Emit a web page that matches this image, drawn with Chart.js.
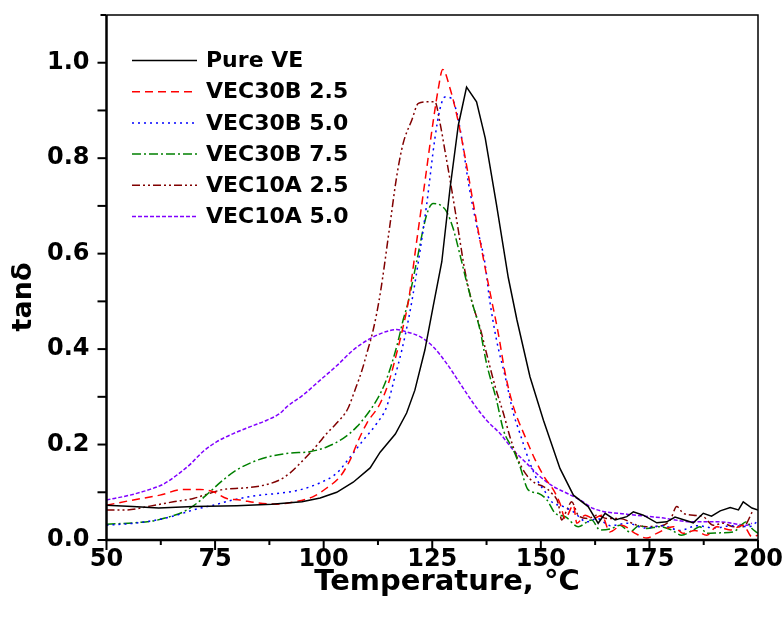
<!DOCTYPE html>
<html>
<head>
<meta charset="utf-8">
<script src="https://cdn.jsdelivr.net/npm/chart.js@4.4.1/dist/chart.umd.min.js"></script>
<style>
    html, body { margin: 0; padding: 0; background: #fff; }
    #wrap { width: 783px; height: 619px; }
</style>
</head>
<body>
<div id="wrap"><canvas id="tanChart" width="783" height="619"></canvas></div>
<script>
const seriesNames = ['Pure VE', 'VEC30B 2.5', 'VEC30B 5.0', 'VEC30B 7.5', 'VEC10A 2.5', 'VEC10A 5.0'];
const seriesColors = ['#000000', '#ff0000', '#0000ff', '#008000', '#800000', '#8000ff'];
const seriesDashes = [[], [8, 5], [2, 4], [9, 3, 2, 3], [8, 3, 2, 3, 2, 3], [4, 2]];

const xTicks = [50, 75, 100, 125, 150, 175, 200];
const yTicks = [0.0, 0.2, 0.4, 0.6, 0.8, 1.0];

// Pure VE
const pureT = [50, 56, 62, 70, 80, 88, 95, 99.2, 103, 106.8, 110.7, 113, 116.5, 119.1, 121, 123.3, 125.2, 127.2, 129.1, 131, 132.9,
    135.2, 137.2, 139.8, 142.5, 144.5, 147.5, 150.6, 154.4, 157.5, 160.9, 163.2, 164.8, 167.1, 169.8, 171.3, 173.6, 176.7, 179,
    180.9, 185.1, 187.4, 189.3, 191.3, 193.6, 195.5, 196.6, 198.6, 200];
const pureV = [0.073, 0.07, 0.067, 0.07, 0.072, 0.075, 0.08, 0.088, 0.1, 0.121, 0.151, 0.184, 0.222, 0.266, 0.314, 0.398, 0.489, 0.583, 0.737, 0.869, 0.949,
    0.918, 0.842, 0.702, 0.55, 0.461, 0.342, 0.251, 0.15, 0.094, 0.07, 0.035, 0.056, 0.042, 0.049, 0.059, 0.052, 0.036, 0.038,
    0.048, 0.036, 0.056, 0.05, 0.061, 0.068, 0.063, 0.08, 0.067, 0.063];

// VEC30B 2.5
const b25T = [50, 56.2, 62.3, 67.7, 71.5, 74.6, 77.7, 80.7, 84.6, 89.2, 92.2, 97.6, 100.7, 103.8, 106.1, 108, 109.9, 113, 114.9, 116.8, 118.3,
    119.5, 121.4, 123.3, 125.2, 126.4, 127.4, 129.1, 131, 132.9, 135.2, 137.2, 138.5, 140.2, 141.8, 143.7, 146.4, 148.7, 151, 152.9,
    154.4, 155.6, 157.5, 158.3, 160.2, 162.1, 164, 165.9, 168.6, 171.7, 174.4, 176.7, 180.5, 182.8, 185.5, 188.2, 190.5, 193.6,
    196.6, 198.6, 200];
const b25V = [0.073, 0.084, 0.094, 0.106, 0.106, 0.101, 0.087, 0.084, 0.078, 0.075, 0.078, 0.091, 0.109, 0.133, 0.168, 0.209, 0.244, 0.286, 0.328, 0.391, 0.447,
    0.5, 0.625, 0.75, 0.876, 0.946, 0.986, 0.946, 0.876, 0.785, 0.667, 0.569, 0.51, 0.433, 0.349, 0.279, 0.216, 0.168, 0.129, 0.105,
    0.077, 0.045, 0.073, 0.035, 0.052, 0.045, 0.052, 0.017, 0.031, 0.014, 0.004, 0.014, 0.028, 0.014, 0.02, 0.01, 0.028, 0.021,
    0.031, 0.007, 0.01];

// VEC30B 5.0
const b50T = [50, 56.2, 61.6, 66.2, 70, 74.6, 79.2, 85.3, 89.9, 94.5, 99.2, 103, 106.1, 109.1, 112.2, 114.5, 116.4, 118, 119.5, 120.3,
    121.8, 123.7, 125.6, 126.8, 127.9, 129.5, 130.6, 131.8, 133.3, 135.2, 137.2, 138.1, 139.8, 141.8, 143.7, 145.2, 147.5, 149.4,
    151, 152.5, 155.2, 157.5, 160.6, 163, 166, 170, 174, 178, 182, 186, 190, 194, 198, 200];
const b50V = [0.031, 0.035, 0.042, 0.052, 0.063, 0.073, 0.084, 0.094, 0.098, 0.105, 0.12, 0.14, 0.174, 0.209, 0.244, 0.279, 0.342, 0.398, 0.461, 0.5,
    0.583, 0.702, 0.841, 0.904, 0.928, 0.925, 0.897, 0.841, 0.75, 0.66, 0.576, 0.51, 0.419, 0.342, 0.265, 0.223, 0.161, 0.122,
    0.101, 0.08, 0.07, 0.059, 0.038, 0.045, 0.03, 0.035, 0.025, 0.03, 0.02, 0.03, 0.025, 0.03, 0.028, 0.04];

// VEC30B 7.5
const b75T = [50, 56.2, 60.8, 64.6, 67.7, 70.8, 73.8, 76.9, 80, 83.8, 87.6, 92.2, 96.8, 100.7, 104.5, 107.6, 109.9, 112.2, 114.1, 115.7,
    117.2, 118.3, 119.5, 121.4, 123.7, 125.2, 126.8, 128.3, 129.8, 131.4, 132.9, 134.1, 136, 137.5, 139.8, 141.4, 143.7, 145.2,
    147.1, 149.4, 151.4, 153.3, 155.6, 158.6, 161.7, 163.6, 166.3, 168.2, 170.5, 172.8, 174.4, 177.4, 180.1, 182.4, 185.1, 186.6,
    188.2, 191.3, 194.3, 197.4, 198.6, 200];
const b75V = [0.033, 0.036, 0.04, 0.049, 0.059, 0.077, 0.101, 0.126, 0.147, 0.164, 0.175, 0.182, 0.185, 0.195, 0.213, 0.237, 0.262, 0.293, 0.328, 0.37,
    0.419, 0.461, 0.5, 0.583, 0.681, 0.705, 0.702, 0.688, 0.653, 0.597, 0.541, 0.5, 0.44, 0.37, 0.293, 0.23, 0.188, 0.154,
    0.105, 0.098, 0.084, 0.056, 0.049, 0.028, 0.042, 0.021, 0.024, 0.031, 0.017, 0.031, 0.024, 0.028, 0.021, 0.01, 0.021, 0.028,
    0.014, 0.015, 0.017, 0.038, 0.024, 0.014];

// VEC10A 2.5
const a25T = [50, 54.6, 60, 65.4, 70, 73.8, 76.9, 81.5, 85.3, 89.9, 92.2, 94.5, 98.4, 100.7, 103, 105.5, 107.2, 108.8, 109.9, 111.4,
    113, 115.3, 116.8, 118.3, 120.3, 121.8, 123.7, 125.6, 126.8, 127.9, 129.5, 131, 132.5, 134.1, 136, 137.5, 139.5, 141.4,
    142.9, 144.5, 146.4, 148.7, 150.6, 152.5, 154, 154.8, 156, 157.1, 158.6, 160.9, 162.9, 165.2, 168.2, 172.1, 174.4, 177.4,
    179.8, 181.3, 182.8, 185.1, 187.4, 189.7, 192, 194.3, 196.6, 198.9];
const a25V = [0.063, 0.063, 0.071, 0.08, 0.087, 0.098, 0.106, 0.109, 0.113, 0.126, 0.14, 0.16, 0.198, 0.223, 0.245, 0.274, 0.314, 0.355, 0.39, 0.44,
    0.515, 0.663, 0.761, 0.831, 0.88, 0.915, 0.918, 0.918, 0.873, 0.817, 0.733, 0.649, 0.565, 0.5, 0.445, 0.391, 0.321, 0.265,
    0.216, 0.174, 0.14, 0.119, 0.112, 0.098, 0.077, 0.042, 0.063, 0.08, 0.052, 0.045, 0.052, 0.045, 0.045, 0.031, 0.028, 0.029,
    0.042, 0.07, 0.056, 0.052, 0.049, 0.031, 0.035, 0.028, 0.028, 0.063];

// VEC10A 5.0
const a50T = [50, 55.4, 60, 63.1, 66.2, 69.2, 72.3, 75.4, 79.2, 83, 86.9, 89.9, 91.5, 95.3, 99.2, 103, 106.8, 110.7, 114.5, 116.8,
    119.1, 122.2, 125.2, 128.3, 131.4, 134.5, 137.5, 140.6, 143.7, 146.7, 149.8, 152.9, 156, 159, 162.1, 169.8, 177.4, 185.1,
    191.3, 197.4, 198.6];
const a50V = [0.084, 0.094, 0.106, 0.117, 0.136, 0.158, 0.186, 0.206, 0.223, 0.237, 0.251, 0.265, 0.279, 0.304, 0.335, 0.365, 0.398, 0.422, 0.437, 0.441,
    0.436, 0.426, 0.405, 0.37, 0.328, 0.286, 0.251, 0.223, 0.188, 0.161, 0.133, 0.112, 0.098, 0.084, 0.066, 0.054, 0.047, 0.038,
    0.038, 0.031, 0.035];

const seriesT = [pureT, b25T, b50T, b75T, a25T, a50T];
const seriesV = [pureV, b25V, b50V, b75V, a25V, a50V];

const FONT = "'DejaVu Sans', sans-serif";

const framePlugin = {
    id: 'frame',
    afterDraw(chart) {
        const ctx = chart.ctx;
        const a = chart.chartArea;
        const xs = chart.scales.x;
        const ys = chart.scales.y;
        ctx.save();
        ctx.strokeStyle = '#000';
        ctx.setLineDash([]);

        // top and right
        ctx.lineWidth = 1.5;
        ctx.beginPath();
        ctx.moveTo(a.left, a.top);
        ctx.lineTo(a.right, a.top);
        ctx.lineTo(a.right, a.bottom);
        ctx.stroke();

        // left and bottom axes
        ctx.lineWidth = 2.5;
        ctx.beginPath();
        ctx.moveTo(a.left, a.top);
        ctx.lineTo(a.left, a.bottom);
        ctx.lineTo(a.right, a.bottom);
        ctx.stroke();

        // x ticks, major every 25, minor between
        ctx.lineWidth = 2;
        for (let v = 50; v <= 200; v += 12.5) {
            const px = xs.getPixelForValue(v);
            const len = (v % 25 === 0) ? 10 : 5;
            ctx.beginPath();
            ctx.moveTo(px, a.bottom);
            ctx.lineTo(px, a.bottom + len);
            ctx.stroke();
        }
        // y ticks every 0.1
        for (let i = 0; i <= 11; i++) {
            const py = ys.getPixelForValue(i / 10);
            ctx.beginPath();
            ctx.moveTo(a.left, py);
            ctx.lineTo(a.left - (i === 11 ? 6 : 9), py);
            ctx.stroke();
        }

        // axis titles
        ctx.fillStyle = '#000';
        ctx.font = 'bold 29px ' + FONT;
        ctx.textAlign = 'center';
        ctx.textBaseline = 'middle';
        ctx.fillText('Temperature, °C', 447, 582);

        ctx.save();
        ctx.translate(24, 297);
        ctx.rotate(-Math.PI / 2);
        ctx.font = 'bold 27px ' + FONT;
        ctx.fillText('tanδ', 0, 0);
        ctx.restore();

        // legend
        ctx.font = 'bold 22px ' + FONT;
        ctx.textAlign = 'left';
        chart.data.datasets.forEach((ds, i) => {
            const ly = 60.5 + i * 31.2;
            ctx.strokeStyle = ds.borderColor;
            ctx.lineWidth = 1.5;
            ctx.setLineDash(ds.borderDash);
            ctx.beginPath();
            ctx.moveTo(132, ly);
            ctx.lineTo(197, ly);
            ctx.stroke();
            ctx.setLineDash([]);
            ctx.fillStyle = '#000';
            ctx.fillText(ds.label, 206, ly + 1);
        });
        ctx.restore();
    }
};

const datasets = seriesNames.map((name, i) => ({
    label: name,
    data: seriesT[i].map((t, k) => ({ x: t, y: seriesV[i][k] })),
    borderColor: seriesColors[i],
    backgroundColor: seriesColors[i],
    borderDash: seriesDashes[i],
    borderWidth: 1.5,
    pointRadius: 0,
    fill: false,
    // the pure resin trace is a plain polyline with a sharp peak
    cubicInterpolationMode: i === 0 ? 'default' : 'monotone',
    tension: 0
}));

const ctx = document.getElementById('tanChart').getContext('2d');
const tanChart = new Chart(ctx, {
    type: 'line',
    data: { datasets: datasets },
    options: {
        responsive: false,
        animation: false,
        events: [],
        layout: { padding: { top: 15, right: 25, left: 0, bottom: 0 } },
        plugins: {
            legend: { display: false },
            tooltip: { enabled: false }
        },
        scales: {
            x: {
                type: 'linear',
                min: 50,
                max: 200,
                afterBuildTicks: s => { s.ticks = xTicks.map(v => ({ value: v })); },
                afterFit: s => { s.height = 79; s.paddingLeft = 0; s.paddingRight = 0; },
                grid: { display: false, drawTicks: false },
                border: { display: false },
                ticks: {
                    padding: 5,
                    color: '#000',
                    maxRotation: 0,
                    font: { family: FONT, size: 24, weight: 'bold' },
                    callback: v => String(v)
                }
            },
            y: {
                type: 'linear',
                min: 0,
                max: 1.1,
                afterBuildTicks: s => { s.ticks = yTicks.map(v => ({ value: v })); },
                afterFit: s => { s.width = 106.5; s.paddingTop = 0; s.paddingBottom = 0; },
                grid: { display: false, drawTicks: false },
                border: { display: false },
                ticks: {
                    padding: 17,
                    color: '#000',
                    font: { family: FONT, size: 24, weight: 'bold' },
                    callback: v => v.toFixed(1)
                }
            }
        }
    },
    plugins: [framePlugin]
});
</script>
</body>
</html>
